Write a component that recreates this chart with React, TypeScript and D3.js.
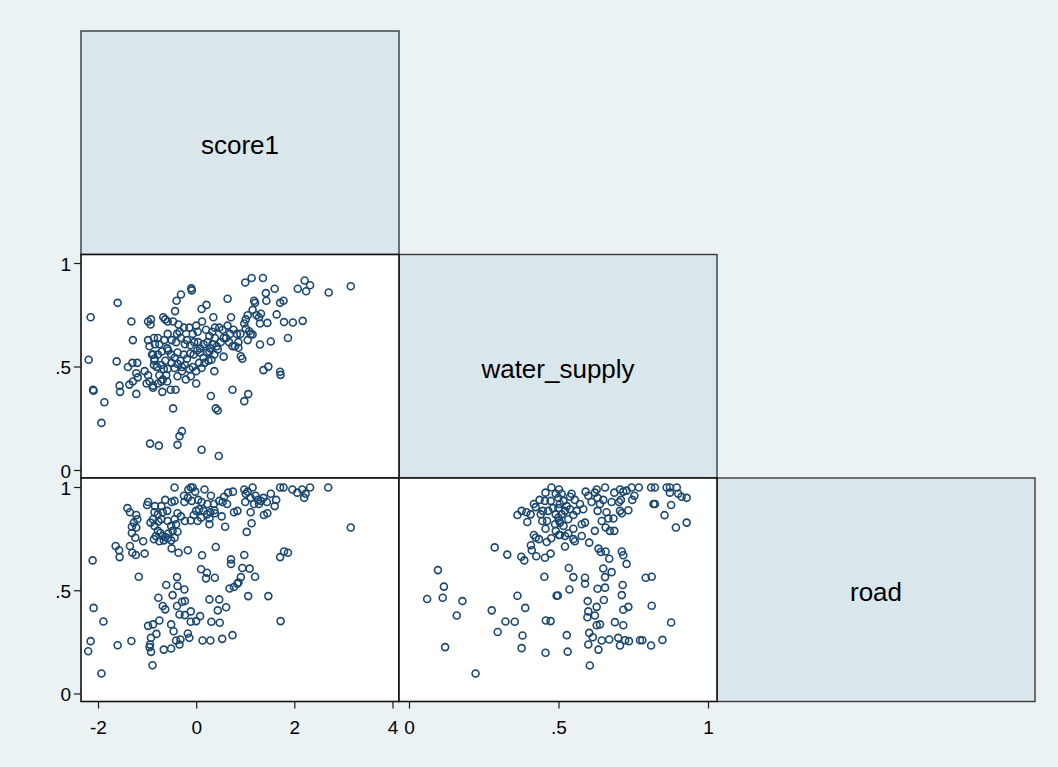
import React from "react";
import * as d3 from "d3";

// ---- Data ----
const variables = ["score1", "water_supply", "road"];
const score1Ticks = [-2, 0, 2, 4];
const score1TickLabels = ["-2", "0", "2", "4"];
const shareTicks = [0, 0.5, 1];
const shareTickLabels = ["0", ".5", "1"];

// score1 (x) vs water_supply (y)
const score1VsWater: [number, number][] = [
  [-2.16,0.74],[-2.20,0.535],[-2.11,0.39],[-2.10,0.385],[-1.88,0.33],[-1.94,0.23],[-1.61,0.81],[-1.63,0.527],[-1.57,0.41],[-1.56,0.38],
  [-1.33,0.72],[-1.30,0.63],[-1.31,0.52],[-1.21,0.52],[-1.40,0.50],[-1.37,0.415],[-1.30,0.43],[-1.23,0.37],[-1.23,0.47],[-1.20,0.45],
  [-1.06,0.48],[-0.99,0.46],[-0.99,0.63],[-0.96,0.60],[-0.99,0.72],[-0.93,0.73],[-0.94,0.705],[-0.87,0.64],[-0.89,0.56],[-0.86,0.53],
  [-0.81,0.50],[-0.96,0.43],[-0.89,0.41],[-1.02,0.42],[-0.79,0.42],[-0.76,0.46],[-0.72,0.43],[-0.89,0.40],[-0.70,0.38],[-0.53,0.39],
  [-0.43,0.39],[-0.95,0.13],[-0.77,0.12],[-0.39,0.124],[-0.35,0.166],[-0.30,0.19],[-0.48,0.30],[-0.68,0.74],[-0.64,0.73],[-0.59,0.72],
  [-0.48,0.72],[-0.37,0.705],[-0.44,0.77],[-0.41,0.82],[-0.32,0.85],[-0.11,0.88],[-0.10,0.87],[0.10,0.10],[0.45,0.07],[0.10,0.78],
  [0.20,0.80],[0.34,0.74],[0.11,0.72],[0.63,0.83],[0.70,0.74],[-0.01,0.70],[-0.15,0.69],[0.29,0.36],[0.36,0.48],[0.39,0.30],
  [0.43,0.29],[0.73,0.39],[0.55,0.55],
  [-0.79,0.64],[-0.59,0.66],[-0.40,0.66],[-0.35,0.67],[-0.26,0.69],[-0.08,0.66],[0.02,0.67],[0.19,0.68],[0.26,0.65],[0.32,0.67],
  [0.37,0.69],[0.46,0.69],[0.53,0.68],[0.63,0.70],[0.68,0.66],[0.75,0.68],[0.82,0.66],[0.89,0.66],
  [-0.85,0.61],[-0.76,0.61],[-0.66,0.63],[-0.60,0.59],[-0.51,0.63],[-0.42,0.62],[-0.32,0.64],[-0.24,0.61],[-0.20,0.63],[-0.13,0.605],
  [-0.05,0.62],[0.03,0.62],[0.07,0.59],[0.14,0.61],[0.22,0.62],[0.28,0.59],[0.32,0.61],[0.37,0.64],[0.41,0.60],[0.49,0.62],
  [0.55,0.64],[0.60,0.64],[0.66,0.62],[0.73,0.60],[0.78,0.60],[0.85,0.62],
  [-0.91,0.56],[-0.86,0.54],[-0.79,0.56],[-0.71,0.575],[-0.64,0.53],[-0.58,0.58],[-0.52,0.56],[-0.45,0.545],[-0.39,0.57],[-0.33,0.53],
  [-0.26,0.56],[-0.20,0.54],[-0.13,0.565],[-0.06,0.56],[0.01,0.58],[0.07,0.57],[0.14,0.545],[0.21,0.57],[0.26,0.575],[0.30,0.535],
  [0.36,0.56],[0.43,0.585],
  [-0.87,0.51],[-0.81,0.50],[-0.72,0.51],[-0.67,0.49],[-0.59,0.49],[-0.51,0.52],[-0.45,0.495],[-0.39,0.515],[-0.30,0.50],[-0.24,0.51],
  [-0.15,0.49],[-0.08,0.50],[-0.01,0.48],[0.05,0.52],[0.10,0.495],[0.16,0.52],[0.24,0.53],
  [-0.69,0.44],[-0.62,0.46],[-0.60,0.43],[-0.39,0.455],[-0.30,0.48],[-0.22,0.44],[-0.12,0.455],[-0.01,0.42],
  [0.99,0.908],[1.12,0.93],[1.35,0.93],[1.41,0.857],[1.59,0.878],[1.17,0.82],[1.19,0.81],[1.42,0.82],[1.70,0.81],[1.77,0.82],
  [2.06,0.878],[2.20,0.918],[2.31,0.895],[2.23,0.866],[2.69,0.86],[3.14,0.89],[1.14,0.776],[1.04,0.75],[1.00,0.73],[0.97,0.71],
  [1.22,0.75],[1.31,0.757],[1.27,0.74],[1.63,0.754],[1.78,0.717],[1.96,0.715],[2.16,0.723],[1.44,0.713],[1.29,0.71],[1.00,0.686],
  [1.07,0.673],[1.10,0.66],[1.14,0.657],[1.04,0.63],[0.85,0.593],[0.90,0.552],[0.93,0.54],[1.29,0.609],[1.51,0.623],[1.86,0.64],
  [1.36,0.485],[1.46,0.502],[1.70,0.477],[1.71,0.462],[1.05,0.369],[0.97,0.335],
];

// score1 (x) vs road (y)
const score1VsRoad: [number, number][] = [
  [-0.45,1.0],[-0.12,1.0],[-0.08,1.0],[-0.17,0.99],[-0.03,0.98],[0.16,0.99],[0.29,0.96],[-0.26,0.96],[-0.18,0.95],[-0.10,0.935],
  [-0.25,0.93],[0.03,0.94],[0.10,0.93],[0.22,0.92],[0.35,0.92],[0.46,0.935],[0.56,0.955],[0.64,0.975],[0.74,0.98],[0.53,0.93],
  [0.62,0.92],[0.76,0.88],[0.36,0.89],[0.28,0.88],[0.21,0.87],[0.14,0.887],[0.05,0.895],[-0.01,0.887],[-0.06,0.867],[0.09,0.854],
  [0.26,0.85],[0.37,0.875],[0.51,0.86],[0.58,0.81],[0.26,0.822],[0.02,0.838],[-0.12,0.84],[-0.24,0.838],[-0.32,0.86],[-0.39,0.875],
  [-0.45,0.846],[-0.42,0.822],[-0.52,0.814],[-0.49,0.79],[-0.39,0.786],[-0.58,0.777],[-0.64,0.76],[-0.69,0.765],[-0.74,0.78],[-0.79,0.79],
  [-0.83,0.765],[-0.76,0.74],[-0.87,0.75],[-0.67,0.744],[-0.59,0.754],[-0.52,0.744],[-0.45,0.757],[-0.60,0.887],[-0.69,0.88],[-0.64,0.94],
  [-0.72,0.91],[-0.51,0.93],[-0.45,0.935],[-0.85,0.91],[-0.99,0.93],[-1.01,0.915],[-0.86,0.88],[-0.79,0.87],[-0.89,0.846],[-0.94,0.83],
  [-0.86,0.814],[-0.78,0.835],[-0.59,0.838],[-0.72,0.846],[-1.41,0.90],[-1.36,0.88],[-1.23,0.867],[-1.21,0.846],[-1.28,0.83],[-1.32,0.81],
  [-1.23,0.806],[-1.32,0.78],[-1.25,0.757],[-1.09,0.74],[-1.36,0.717],[-1.31,0.684],[-1.24,0.673],[-1.06,0.68],[-1.65,0.717],[-1.58,0.696],
  [-1.57,0.663],[-2.12,0.647],[-1.18,0.568],[-0.51,0.705],[-0.37,0.684],[-0.18,0.696],[0.11,0.672],[0.39,0.712],[0.70,0.652],[0.70,0.63],
  [0.09,0.604],[0.21,0.587],[0.19,0.56],[0.37,0.563],[0.67,0.511],[0.76,0.518],[0.83,0.534],[-0.40,0.566],[-0.62,0.528],[-0.39,0.523],
  [-0.25,0.506],[-0.49,0.479],[-0.78,0.466],[-0.69,0.426],[-0.64,0.41],[-0.40,0.426],[-0.30,0.447],[-0.24,0.45],[-0.35,0.385],[-0.24,0.382],
  [-0.12,0.40],[-0.12,0.35],[-0.01,0.353],[0.07,0.377],[0.26,0.458],[0.46,0.458],[0.60,0.42],[0.43,0.405],[0.30,0.35],[0.47,0.345],
  [-0.52,0.337],[-0.76,0.356],[-0.89,0.337],[-0.99,0.33],[-0.93,0.272],[-0.82,0.291],[-0.95,0.24],[-0.96,0.227],[-0.93,0.204],[-0.90,0.139],
  [-0.67,0.215],[-0.52,0.22],[-0.47,0.304],[-0.42,0.259],[-0.33,0.264],[-0.35,0.24],[-0.18,0.293],[-0.15,0.272],[0.12,0.259],[0.28,0.259],
  [0.52,0.267],[0.73,0.285],[-1.33,0.257],[-1.61,0.236],[-1.90,0.351],[-2.10,0.417],[-2.16,0.256],[-2.21,0.207],[-1.94,0.099],
  [0.97,0.99],[1.04,0.98],[1.14,1.0],[1.00,0.97],[1.10,0.95],[1.20,0.96],[1.25,0.94],[1.31,0.935],[1.36,0.95],[1.27,0.92],
  [1.17,0.92],[1.43,0.93],[1.51,0.97],[1.62,0.94],[1.59,0.91],[1.70,1.0],[1.77,1.0],[1.95,0.99],[2.05,0.975],[2.15,0.99],
  [2.22,0.97],[2.19,0.95],[2.31,1.0],[2.68,1.0],[0.99,0.93],[0.83,0.887],[1.10,0.88],[1.37,0.867],[1.44,0.875],[1.12,0.827],
  [1.02,0.785],[3.14,0.806],[0.97,0.673],[1.70,0.663],[1.78,0.69],[1.86,0.684],[0.93,0.61],[1.08,0.607],[0.90,0.566],[1.19,0.568],
  [0.85,0.54],[1.05,0.474],[1.46,0.474],[1.71,0.353],
];

// water_supply (x) vs road (y)
const waterVsRoad: [number, number][] = [
  [0.095,0.60],[0.115,0.52],[0.111,0.466],[0.059,0.46],[0.177,0.45],[0.158,0.38],[0.119,0.227],[0.221,0.099],[0.285,0.71],[0.327,0.675],
  [0.275,0.405],[0.295,0.30],[0.321,0.351],[0.352,0.35],[0.361,0.476],[0.387,0.417],[0.378,0.283],[0.375,0.222],[0.455,0.20],[0.456,0.356],
  [0.472,0.353],[0.451,0.568],[0.492,0.476],
  [0.374,0.665],[0.384,0.647],[0.409,0.696],[0.406,0.72],[0.416,0.77],[0.422,0.757],[0.433,0.75],[0.424,0.667],[0.453,0.66],[0.472,0.68],
  [0.459,0.736],[0.474,0.754],[0.455,0.80],[0.46,0.838],[0.444,0.838],[0.394,0.833],[0.361,0.867],[0.375,0.887],[0.391,0.88],[0.405,0.87],
  [0.416,0.92],[0.422,0.905],[0.435,0.94],[0.453,0.935],[0.455,0.975],[0.475,1.0],[0.489,0.97],[0.472,0.935],[0.48,0.90],[0.464,0.887],
  [0.446,0.887],[0.439,0.87],[0.489,0.87],[0.498,0.90],[0.50,0.84],[0.489,0.79],[0.50,0.77],
  [0.50,0.99],[0.498,0.95],[0.509,0.97],[0.503,0.92],[0.515,0.935],[0.526,0.91],[0.537,0.955],[0.542,0.97],[0.553,0.94],[0.537,0.895],
  [0.52,0.887],[0.509,0.87],[0.498,0.854],[0.487,0.822],[0.503,0.83],[0.515,0.814],[0.531,0.846],[0.548,0.867],[0.559,0.887],[0.57,0.92],
  [0.581,0.895],[0.589,0.98],[0.598,0.96],[0.609,0.93],[0.62,0.975],[0.629,0.95],[0.626,0.99],[0.654,1.0],[0.685,0.975],[0.704,0.99],
  [0.715,0.98],[0.726,0.985],[0.743,1.0],[0.767,1.0],[0.808,1.0],[0.821,1.0],[0.86,1.0],[0.871,1.0],[0.894,1.0],[0.871,0.975],
  [0.899,0.97],[0.91,0.955],[0.927,0.95],[0.752,0.96],[0.745,0.94],[0.707,0.94],[0.701,0.93],[0.676,0.93],[0.648,0.94],[0.637,0.92],
  [0.629,0.887],[0.659,0.88],[0.643,0.838],[0.665,0.85],[0.682,0.85],[0.704,0.887],[0.732,0.89],[0.71,0.875],[0.816,0.92],[0.821,0.92],
  [0.875,0.915],[0.853,0.866],[0.891,0.806],[0.927,0.83],[0.656,0.806],[0.67,0.79],[0.685,0.79],[0.62,0.79],[0.576,0.822],[0.587,0.83],
  [0.548,0.80],[0.531,0.777],[0.52,0.765],[0.503,0.77],[0.553,0.74],[0.576,0.765],[0.601,0.733],[0.52,0.714],[0.548,0.75],
  [0.632,0.704],[0.64,0.688],[0.656,0.69],[0.668,0.655],[0.71,0.69],[0.715,0.672],[0.726,0.63],[0.533,0.61],[0.548,0.566],[0.587,0.563],
  [0.587,0.534],[0.648,0.608],[0.676,0.59],[0.654,0.566],[0.629,0.51],[0.654,0.515],[0.713,0.528],[0.71,0.479],[0.79,0.563],[0.81,0.568],
  [0.535,0.506],[0.496,0.477],[0.596,0.45],[0.626,0.422],[0.65,0.455],[0.715,0.408],[0.732,0.422],[0.81,0.427],[0.598,0.40],[0.595,0.372],
  [0.62,0.38],[0.626,0.333],[0.637,0.337],[0.687,0.348],[0.715,0.333],[0.875,0.346],[0.526,0.285],[0.529,0.205],[0.601,0.296],[0.613,0.275],
  [0.598,0.24],[0.632,0.215],[0.643,0.259],[0.668,0.264],[0.698,0.272],[0.704,0.235],[0.721,0.26],[0.734,0.256],[0.771,0.26],[0.779,0.26],
  [0.808,0.235],[0.846,0.262],[0.603,0.138],
];

// ---- Layout ----
const W = 1058;
const H = 767;
const left = 81;
const top = 31;
const cellW = 318;
const cellH = 223.5;
const BG = "#EAF2F3";
const DIAG = "#D9E6EB";
const MARK = "#1A476F";
const FONT = "'Liberation Sans', Arial, Helvetica, sans-serif";

const cx = (c: number) => left + c * cellW;
const cy = (r: number) => top + r * cellH;

const xScore = d3.scaleLinear().domain([-2, 4]).range([cx(0) + 17.5, cx(0) + 312]);
const xWater = d3.scaleLinear().domain([0, 1]).range([cx(1) + 10.5, cx(1) + 309.5]);
const yWater = d3.scaleLinear().domain([0, 1]).range([cy(1) + 216, cy(1) + 9]);
const yRoad = d3.scaleLinear().domain([0, 1]).range([cy(2) + 216, cy(2) + 9.5]);

function Scatter({ pts, xs, ys, row, col }: { pts: [number, number][]; xs: any; ys: any; row: number; col: number }) {
  return (
    <g>
      <rect x={cx(col)} y={cy(row)} width={cellW} height={cellH} fill="#ffffff" />
      {pts.map((p, i) => (
        <circle key={i} cx={xs(p[0])} cy={ys(p[1])} r={3.5} fill="none" stroke={MARK} strokeWidth={1.6} />
      ))}
      <rect x={cx(col)} y={cy(row)} width={cellW} height={cellH} fill="none" stroke="#111" strokeWidth={1.6} />
    </g>
  );
}

function Diag({ i }: { i: number }) {
  return (
    <g>
      <rect x={cx(i)} y={cy(i)} width={cellW} height={cellH} fill={DIAG} stroke="#3a3a3a" strokeWidth={1.4} />
      <text x={cx(i) + cellW / 2} y={cy(i) + cellH / 2 + 11.5} textAnchor="middle" fontFamily={FONT} fontSize={26} fill="#000">
        {variables[i]}
      </text>
    </g>
  );
}

function YAxis({ ys }: { ys: any }) {
  const x0 = cx(0);
  return (
    <g>
      {shareTicks.map((t, i) => (
        <g key={i}>
          <line x1={x0 - 7} x2={x0} y1={ys(t)} y2={ys(t)} stroke="#1a1a1a" strokeWidth={1.2} />
          <text x={x0 - 10} y={ys(t) + 7} textAnchor="end" fontFamily={FONT} fontSize={19} fill="#000">
            {shareTickLabels[i]}
          </text>
        </g>
      ))}
    </g>
  );
}

function XAxis({ xs, ticks, labels }: { xs: any; ticks: number[]; labels: string[] }) {
  const y0 = cy(3);
  return (
    <g>
      {ticks.map((t, i) => (
        <g key={i}>
          <line x1={xs(t)} x2={xs(t)} y1={y0} y2={y0 + 7} stroke="#1a1a1a" strokeWidth={1.2} />
          <text x={xs(t)} y={y0 + 32} textAnchor="middle" fontFamily={FONT} fontSize={19} fill="#000">
            {labels[i]}
          </text>
        </g>
      ))}
    </g>
  );
}

export default function App() {
  return (
    <div style={{ position: "fixed", left: 0, top: 0, width: W, height: H }}>
      <svg width={W} height={H} viewBox={`0 0 ${W} ${H}`} style={{ display: "block" }}>
        <rect x={0} y={0} width={W} height={H} fill={BG} />
        <Diag i={0} />
        <Diag i={1} />
        <Diag i={2} />
        <Scatter pts={score1VsWater} xs={xScore} ys={yWater} row={1} col={0} />
        <Scatter pts={score1VsRoad} xs={xScore} ys={yRoad} row={2} col={0} />
        <Scatter pts={waterVsRoad} xs={xWater} ys={yRoad} row={2} col={1} />
        <YAxis ys={yWater} />
        <YAxis ys={yRoad} />
        <XAxis xs={xScore} ticks={score1Ticks} labels={score1TickLabels} />
        <XAxis xs={xWater} ticks={shareTicks} labels={shareTickLabels} />
      </svg>
    </div>
  );
}
